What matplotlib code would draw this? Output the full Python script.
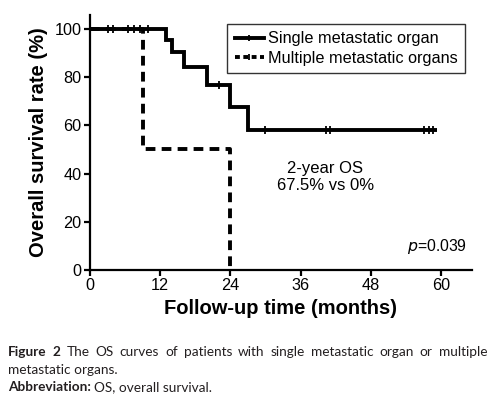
import numpy as np
import matplotlib
matplotlib.use("Agg")
import matplotlib.pyplot as plt
from matplotlib.lines import Line2D

# Kaplan-Meier steps
single_time = [0, 13, 14, 16, 20, 24, 27, 59.4]
single_surv = [100, 95.4, 90.5, 84.3, 76.9, 67.5, 57.9, 57.9]
single_censor = [3, 4, 6.5, 7.5, 8.5, 10, 22, 30, 40.3, 41, 57.1, 57.9, 58.6]

multi_time = [0, 9, 24]
multi_surv = [100, 50, 0]

xticks = [0, 12, 24, 36, 48, 60]
yticks = [0, 20, 40, 60, 80, 100]

legend_labels = ["Single metastatic organ", "Multiple metastatic organs"]
annot = "2-year OS\n67.5% vs 0%"
pval = "0.039"

plt.rcParams["font.family"] = ["Liberation Sans", "DejaVu Sans"]
plt.rcParams["lines.scale_dashes"] = False

W, H = 491, 398
fig = plt.figure(figsize=(W / 100, H / 100), dpi=100)
ax = fig.add_axes([90 / W, 1 - 270 / H, 382 / W, 255 / H])

lw = 2.8
ax.step(single_time, single_surv, where="post", color="black", lw=lw,
        solid_joinstyle="miter", solid_capstyle="butt")
idx = np.searchsorted(single_time, single_censor, side="right") - 1
ax.plot(single_censor, np.array(single_surv)[idx], ls="none", marker="|",
        ms=6, mew=1.3, color="black")
ax.step(multi_time, multi_surv, where="post", color="black", lw=lw,
        dashes=(7, 4.5), dash_capstyle="butt")

ax.set_xlim(0, 65.3)
ax.set_ylim(0, 105.8)
ax.set_xticks(xticks)
ax.set_yticks(yticks)
for s in ["top", "right"]:
    ax.spines[s].set_visible(False)
for s in ["left", "bottom"]:
    ax.spines[s].set_linewidth(1.6)
ax.tick_params(direction="out", length=4, width=1.6, labelsize=11.7, pad=2)

ax.set_xlabel("Follow-up time (months)", fontsize=14.5, fontweight="bold", labelpad=4)
ax.set_ylabel("Overall survival rate (%)", fontsize=14.5, fontweight="bold", labelpad=5)

h1 = Line2D([], [], color="black", lw=lw, marker="|", ms=5, mew=1.3)
h2 = Line2D([], [], color="black", lw=lw, dashes=(3.5, 2.5), marker="|", ms=4, mew=1.3)
leg = ax.legend([h1, h2], legend_labels, loc="upper right",
                bbox_to_anchor=(0.982, 0.965), borderaxespad=0, fancybox=False,
                fontsize=11.7, handlelength=1.8, handletextpad=0.25,
                borderpad=0.45, labelspacing=0.3, frameon=True)
leg.get_frame().set_edgecolor("black")
leg.get_frame().set_linewidth(1.0)

ax.text(40.2, 38.6, annot, ha="center", va="center", fontsize=12)
ax.text(64.4, 9.7, "$p$=" + pval, ha="right", va="center", fontsize=11.3)

# caption
cap_font = ["Lato", "DejaVu Sans"]
cap_col = "#231f20"
cap_size = 9.8
renderer = fig.canvas.get_renderer()

line1 = [("Figure", "bold"), ("2", "bold"), ("The", "normal"), ("OS", "normal"),
         ("curves", "normal"), ("of", "normal"), ("patients", "normal"),
         ("with", "normal"), ("single", "normal"), ("metastatic", "normal"),
         ("organ", "normal"), ("or", "normal"), ("multiple", "normal")]
x0, x1 = 8 / W, 487 / W
y1 = 1 - 352 / H
texts = [fig.text(0, y1, w, fontsize=cap_size, fontweight=fw, family=cap_font,
                  color=cap_col, va="center") for w, fw in line1]
widths = [t.get_window_extent(renderer).width / W for t in texts]
gap = (x1 - x0 - sum(widths)) / (len(texts) - 1)
x = x0
for t, wd in zip(texts, widths):
    t.set_x(x)
    x += wd + gap

fig.text(x0, 1 - 370 / H, "metastatic organs.", fontsize=cap_size, family=cap_font,
         color=cap_col, va="center")
t = fig.text(x0, 1 - 387 / H, "Abbreviation:", fontsize=cap_size, fontweight="bold",
             family=cap_font, color=cap_col, va="center")
wd = t.get_window_extent(renderer).width / W
fig.text(x0 + wd + 3 / W, 1 - 387 / H, "OS, overall survival.", fontsize=cap_size,
         family=cap_font, color=cap_col, va="center")

fig.savefig("out.png", dpi=100)
